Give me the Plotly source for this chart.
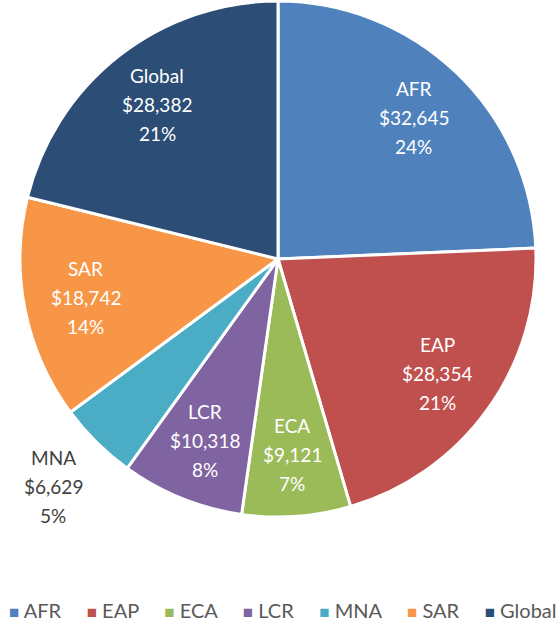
import math
import plotly.graph_objects as go

regions = ["AFR", "EAP", "ECA", "LCR", "MNA", "SAR", "Global"]
values = [32645, 28354, 9121, 10318, 6629, 18742, 28382]
colors = ["#4F81BD", "#C0504D", "#9BBB59", "#8064A2", "#4BACC6", "#F79646", "#2C4D75"]
outside = ["MNA"]

W, H = 559, 625
cx, cy, R = 278, 259, 258
FONT = "Lato, Open Sans, sans-serif"

fig = go.Figure(go.Pie(
    labels=regions, values=values, sort=False, direction="clockwise", rotation=0,
    marker=dict(colors=colors, line=dict(color="white", width=3)),
    textinfo="none", hoverinfo="label+value+percent", showlegend=False,
    domain=dict(x=[(cx - R) / W, (cx + R) / W], y=[1 - (cy + R) / H, 1 - (cy - R) / H]),
))

total = sum(values)
cum = 0
annotations = []
for lab, v in zip(regions, values):
    mid = (cum + v / 2) / total * 2 * math.pi
    cum += v
    is_out = lab in outside
    d = R * (1.24 if is_out else 0.76)
    px = cx + d * math.sin(mid)
    py = cy - d * math.cos(mid)
    lines = [lab, "${:,}".format(v), "{:.0f}%".format(v / total * 100)]
    for i, t in enumerate(lines):
        annotations.append(dict(
            x=px / W, y=1 - py / H, xref="paper", yref="paper", text=t, showarrow=False,
            yshift=(1 - i) * 29, xanchor="center", yanchor="middle",
            font=dict(size=19, color="#404040" if is_out else "white", family=FONT),
        ))

# legend row built from the categories and colours
legend_text = "     ".join(
    "<span style='color:{};font-size:17px'>■</span> {}".format(c, lab)
    for lab, c in zip(regions, colors)
)
annotations.append(dict(
    x=283 / W, y=1 - 610 / H, xref="paper", yref="paper", text=legend_text,
    showarrow=False, xanchor="center", yanchor="middle",
    font=dict(size=20, color="#595959", family=FONT),
))

fig.update_layout(
    width=W, height=H, margin=dict(l=0, r=0, t=0, b=0, autoexpand=False),
    paper_bgcolor="white", plot_bgcolor="white",
    annotations=annotations,
)
fig.write_html("out.html", config={"displayModeBar": False},
               post_script="document.body.style.margin='0';")
